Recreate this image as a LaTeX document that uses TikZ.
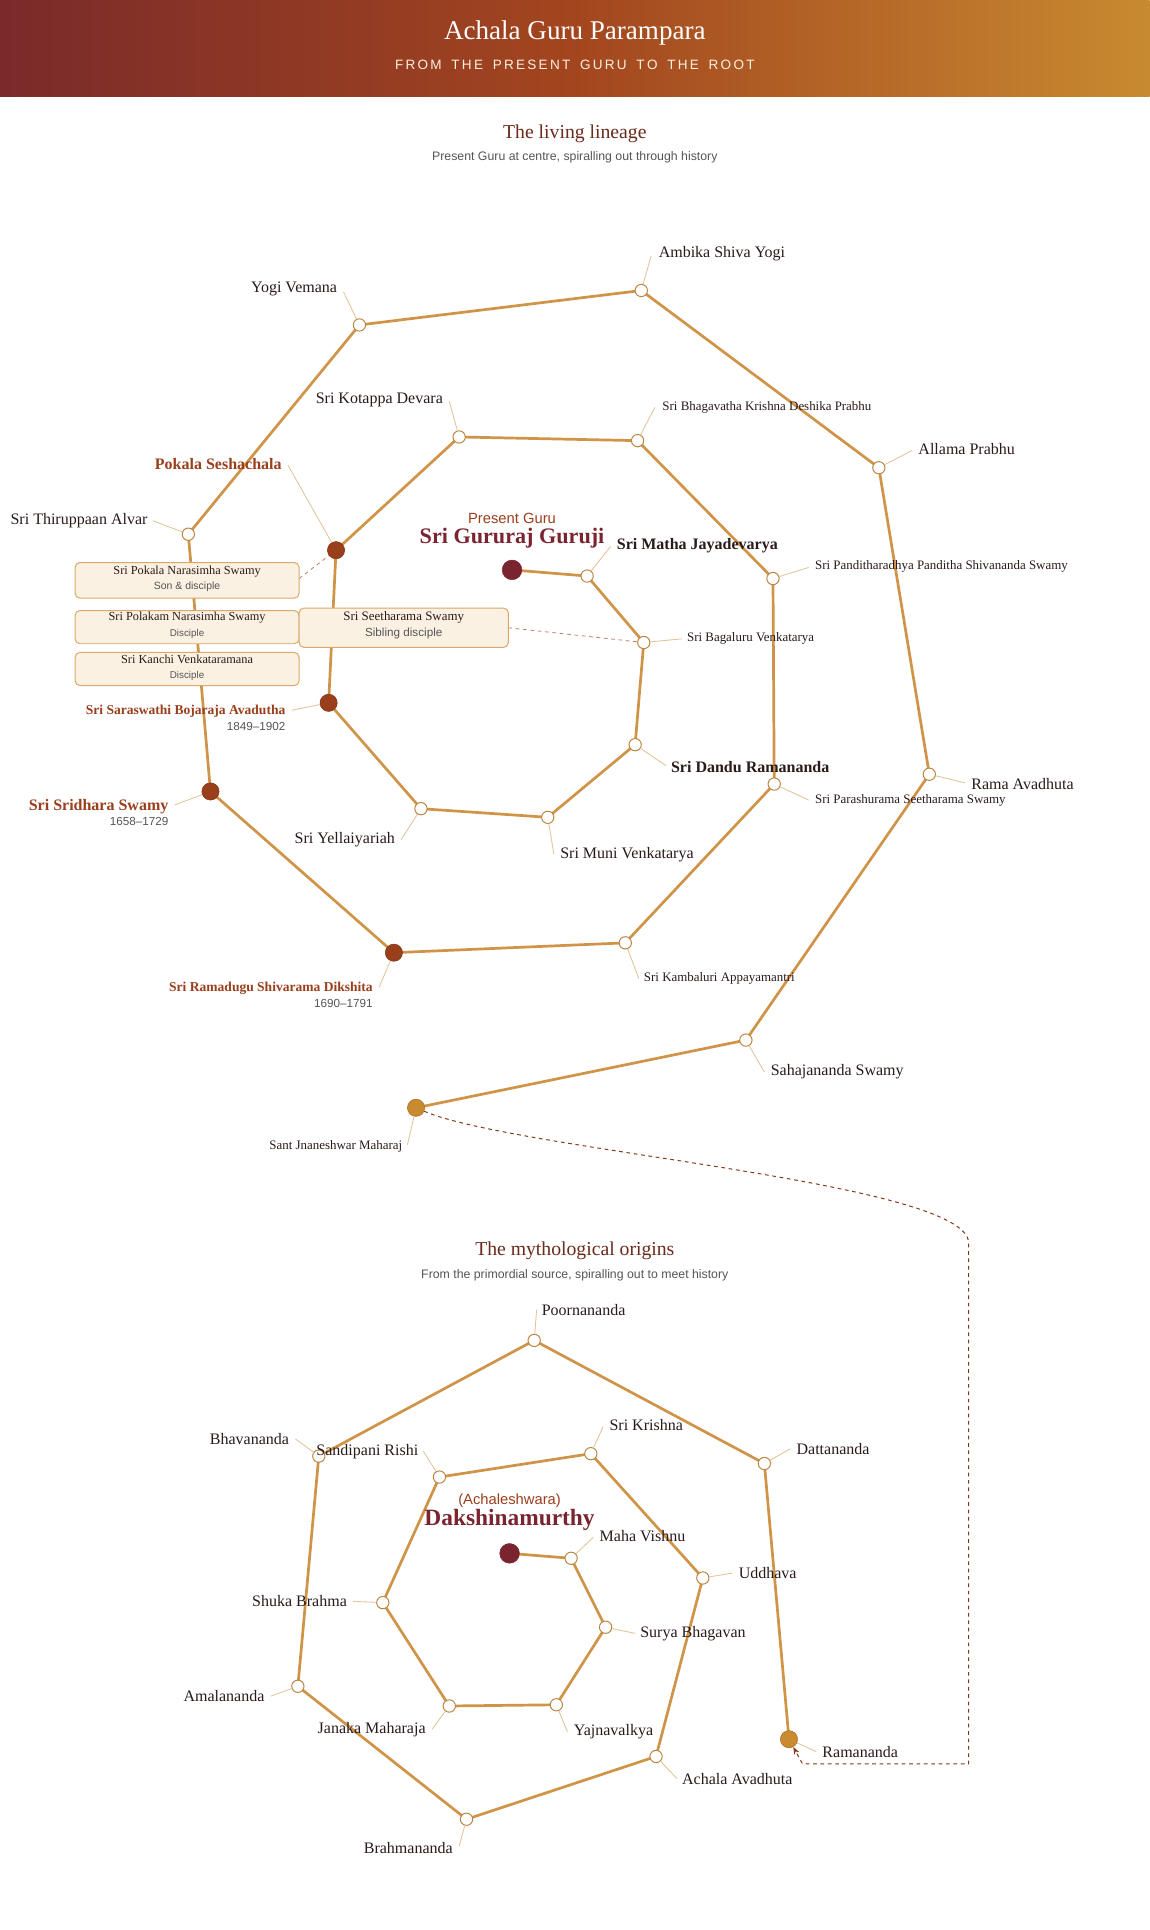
\documentclass[tikz,border=0pt]{standalone}
\usepackage{fontspec}
\setmainfont{Liberation Serif}
\setsansfont{Liberation Sans}
\usetikzlibrary{arrows.meta}
\definecolor{hA}{HTML}{7A2A2A}\definecolor{hB}{HTML}{A3461F}\definecolor{hC}{HTML}{C88A30}
\definecolor{edge}{HTML}{D09448}\definecolor{lead}{HTML}{E2C49A}
\definecolor{brn}{HTML}{9A3F1C}\definecolor{dred}{HTML}{7A2430}\definecolor{org}{HTML}{C98A30}
\definecolor{ttl}{HTML}{6B2A1A}\definecolor{txt}{HTML}{2A1A1A}\definecolor{gry}{HTML}{555555}
\definecolor{boxf}{HTML}{FBF1E2}\definecolor{boxd}{HTML}{D9A86A}
\tikzset{
 op/.style={circle,draw=edge!90!black,fill=white,line width=0.8pt,minimum size=10pt,inner sep=0pt},
 fb/.style={circle,draw=brn!80!black,fill=brn,minimum size=14pt,inner sep=0pt},
 fr/.style={circle,draw=dred,fill=dred,minimum size=16pt,inner sep=0pt},
 fo/.style={circle,draw=org!80!black,fill=org,minimum size=14pt,inner sep=0pt},
 e/.style={draw=edge,line width=2.2pt},
 ld/.style={draw=lead,line width=0.7pt},
 L/.style={font=\fontsize{13}{15}\selectfont,text=txt,inner sep=0pt},
 S/.style={font=\fontsize{10.5}{12}\selectfont,text=txt,inner sep=0pt},
 B/.style={font=\bfseries\fontsize{13}{15}\selectfont,text=txt,inner sep=0pt},
 BB/.style={font=\bfseries\fontsize{13}{15}\selectfont,text=brn,inner sep=0pt},
 BS/.style={font=\bfseries\fontsize{11}{13}\selectfont,text=brn,inner sep=0pt},
 D/.style={font=\sffamily\fontsize{9.5}{11}\selectfont,text=gry,inner sep=0pt},
 bx/.style={draw=boxd,fill=boxf,rounded corners=4pt,line width=0.8pt},
}
\newcommand{\lbl}[6]{\coordinate (#1l) at (#2); \draw[ld] (#1) -- (#1l); \node[#5,anchor=#4] at (#3) {#6};}
\begin{document}
\begin{tikzpicture}[x=1pt,y=-1pt]
\useasboundingbox (0,0) rectangle (934,1568);
\fill[white] (0,0) rectangle (934,1568);
\shade[left color=hA,right color=hC,middle color=hB] (0,0) rectangle (934,78);
\node[text=white,font=\fontsize{22}{24}\selectfont] (title) at (467,27) {Achala Guru Parampara};
\node[text=white!88!orange,font=\sffamily\fontsize{11}{12}\selectfont] (sub) at (467,53) {F\,R\,O\,M\; \,T\,H\,E\; \,P\,R\,E\,S\,E\,N\,T\; \,G\,U\,R\,U\; \,T\,O\; \,T\,H\,E\; \,R\,O\,O\,T};
\node[text=ttl,font=\fontsize{16}{18}\selectfont] (t1) at (467,109) {The living lineage};
\node[text=gry,font=\sffamily\fontsize{10}{12}\selectfont] (s1) at (467,128) {Present Guru at centre, spiralling out through history};
\node[text=ttl,font=\fontsize{16}{18}\selectfont] (t2) at (467,1016) {The mythological origins};
\node[text=gry,font=\sffamily\fontsize{10}{12}\selectfont] (s2) at (467,1036) {From the primordial source, spiralling out to meet history};
% top nodes coordinates
\coordinate (c1) at (416,463);\coordinate (c2) at (477,468);\coordinate (c3) at (523,522);\coordinate (c4) at (516,605);
\coordinate (c5) at (445,664);\coordinate (c6) at (342,657);\coordinate (c7) at (267,571);\coordinate (c8) at (273,447);
\coordinate (c9) at (373,355);\coordinate (c10) at (518,358);\coordinate (c11) at (628,470);\coordinate (c12) at (629,637);
\coordinate (c13) at (508,766);\coordinate (c14) at (320,774);\coordinate (c15) at (171,643);\coordinate (c16) at (153,434);
\coordinate (c17) at (292,264);\coordinate (c18) at (521,236);\coordinate (c19) at (714,380);\coordinate (c20) at (755,629);
\coordinate (c21) at (606,845);\coordinate (c22) at (338,900);
\draw[e] (c1)--(c2)--(c3)--(c4)--(c5)--(c6)--(c7)--(c8)--(c9)--(c10)--(c11)--(c12)--(c13)--(c14)--(c15)--(c16)--(c17)--(c18)--(c19)--(c20)--(c21)--(c22);
% boxes
\draw[dashed,draw=brn!70,line width=0.6pt] (243,470) -- (c8);
\draw[dashed,draw=brn!70,line width=0.6pt] (413,510) -- (c3);
\draw[bx] (61,457) rectangle (243,486); \node[S,font=\fontsize{10}{11}\selectfont] (b1) at (152,464) {Sri Pokala Narasimha Swamy}; \node[D,font=\sffamily\fontsize{8.5}{10}\selectfont] (b1d) at (152,477) {Son \& disciple};
\draw[bx] (61,496) rectangle (243,523); \node[S,font=\fontsize{10}{11}\selectfont] (b2) at (152,502) {Sri Polakam Narasimha Swamy}; \node[D,font=\sffamily\fontsize{8}{10}\selectfont] (b2d) at (152,515) {Disciple};
\draw[bx] (61,530) rectangle (243,557); \node[S,font=\fontsize{10}{11}\selectfont] (b3) at (152,536) {Sri Kanchi Venkataramana}; \node[D,font=\sffamily\fontsize{8}{10}\selectfont] (b3d) at (152,549) {Disciple};
\draw[bx] (243,494) rectangle (413,526); \node[S,font=\fontsize{10.5}{12}\selectfont] (b4) at (328,502) {Sri Seetharama Swamy}; \node[D] (b4d) at (328,515) {Sibling disciple};
% node circles
\node[fr] (n1) at (c1) {};
\foreach \i in {2,3,4,5,6,9,10,11,12,13,16,17,18,19,20,21} \node[op] (n\i) at (c\i) {};
\foreach \i in {7,8,14,15} \node[fb] (n\i) at (c\i) {};
\node[fo] (n22) at (c22) {};
% labels top
\node[text=brn,font=\sffamily\fontsize{12}{14}\selectfont] (pg) at (416,421) {Present Guru};
\node[text=dred,font=\bfseries\fontsize{18}{20}\selectfont] (gg) at (416,437) {Sri Gururaj Guruji};
\lbl{n18}{529,208}{535,206}{west}{L}{Ambika Shiva Yogi}
\lbl{n17}{279,237}{274,235}{east}{L}{Yogi Vemana}
\lbl{n9}{365,326}{360,325}{east}{L}{Sri Kotappa Devara}
\lbl{n10}{532,331}{538,331}{west}{S}{Sri Bhagavatha Krishna Deshika Prabhu}
\lbl{n19}{741,366}{746,365}{west}{L}{Allama Prabhu}
\lbl{n8}{234,378}{229,377}{east}{BB}{Pokala Seshachala}
\lbl{n16}{124,423}{120,423}{east}{L}{Sri Thiruppaan Alvar}
\lbl{n2}{496,444}{501,443}{west}{B}{Sri Matha Jayadevarya}
\lbl{n11}{657,461}{662,460}{west}{S}{Sri Panditharadhya Panditha Shivananda Swamy}
\lbl{n3}{554,519}{558,519}{west}{S}{Sri Bagaluru Venkatarya}
\lbl{n7}{237,577}{232,578}{east}{BS}{Sri Saraswathi Bojaraja Avadutha}
\node[D,anchor=east] (d7) at (232,590) {1849--1902};
\lbl{n4}{541,622}{545,623}{west}{B}{Sri Dandu Ramananda}
\lbl{n15}{142,654}{137,655}{east}{BB}{Sri Sridhara Swamy}
\node[D,anchor=east] (d15) at (137,667) {1658--1729};
\lbl{n20}{784,636}{789,637}{west}{L}{Rama Avadhuta}
\lbl{n12}{657,650}{662,650}{west}{S}{Sri Parashurama Seetharama Swamy}
\lbl{n6}{326,682}{321,682}{east}{L}{Sri Yellaiyariah}
\lbl{n5}{450,694}{455,694}{west}{L}{Sri Muni Venkatarya}
\lbl{n14}{308,802}{303,803}{east}{BS}{Sri Ramadugu Shivarama Dikshita}
\node[D,anchor=east] (d14) at (303,815) {1690--1791};
\lbl{n13}{519,795}{523,795}{west}{S}{Sri Kambaluri Appayamantri}
\lbl{n21}{621,871}{626,871}{west}{L}{Sahajananda Swamy}
\lbl{n22}{331,930}{327,931}{east}{S}{Sant Jnaneshwar Maharaj}
% bottom
\coordinate (m1) at (414,1262);\coordinate (m2) at (464,1266);\coordinate (m3) at (492,1322);\coordinate (m4) at (452,1385);
\coordinate (m5) at (365,1386);\coordinate (m6) at (311,1302);\coordinate (m7) at (357,1200);\coordinate (m8) at (480,1181);
\coordinate (m9) at (571,1282);\coordinate (m10) at (533,1427);\coordinate (m11) at (379,1478);\coordinate (m12) at (242,1370);
\coordinate (m13) at (259,1183);\coordinate (m14) at (434,1089);\coordinate (m15) at (621,1189);\coordinate (m16) at (641,1413);
\draw[e] (m1)--(m2)--(m3)--(m4)--(m5)--(m6)--(m7)--(m8)--(m9)--(m10)--(m11)--(m12)--(m13)--(m14)--(m15)--(m16);
\node[fr] (q1) at (m1) {};
\foreach \i in {2,...,15} \node[op] (q\i) at (m\i) {};
\node[fo] (q16) at (m16) {};
\node[text=brn,font=\sffamily\fontsize{12}{14}\selectfont] (ach) at (414,1219) {(Achaleshwara)};
\node[text=dred,font=\bfseries\fontsize{19}{21}\selectfont] (dk) at (414,1235) {Dakshinamurthy};
\lbl{q14}{436,1064}{440,1064}{west}{L}{Poornananda}
\lbl{q13}{240,1169}{235,1169}{east}{L}{Bhavananda}
\lbl{q7}{344,1179}{340,1179}{east}{L}{Sandipani Rishi}
\lbl{q8}{490,1159}{495,1158}{west}{L}{Sri Krishna}
\lbl{q15}{642,1177}{647,1177}{west}{L}{Dattananda}
\lbl{q2}{482,1249}{487,1248}{west}{L}{Maha Vishnu}
\lbl{q9}{595,1278}{600,1278}{west}{L}{Uddhava}
\lbl{q6}{287,1301}{282,1301}{east}{L}{Shuka Brahma}
\lbl{q3}{516,1327}{520,1327}{west}{L}{Surya Bhagavan}
\lbl{q12}{220,1378}{215,1378}{east}{L}{Amalananda}
\lbl{q5}{351,1405}{346,1405}{east}{L}{Janaka Maharaja}
\lbl{q4}{461,1407}{466,1407}{west}{L}{Yajnavalkya}
\lbl{q16}{663,1423}{668,1423}{west}{L}{Ramananda}
\lbl{q10}{550,1445}{554,1445}{west}{L}{Achala Avadhuta}
\lbl{q11}{373,1500}{368,1501}{east}{L}{Brahmananda}
% cross link
\coordinate (k1) at (787,1010);\coordinate (k2) at (787,1433);\coordinate (k3) at (652,1433);
\draw[dashed,draw=brn!85!black,line width=0.8pt,-{Stealth[length=6pt]}] (n22) .. controls (420,935) and (787,960) .. (k1) -- (k2) -- (k3) -- (q16);
\end{tikzpicture}
\end{document}
